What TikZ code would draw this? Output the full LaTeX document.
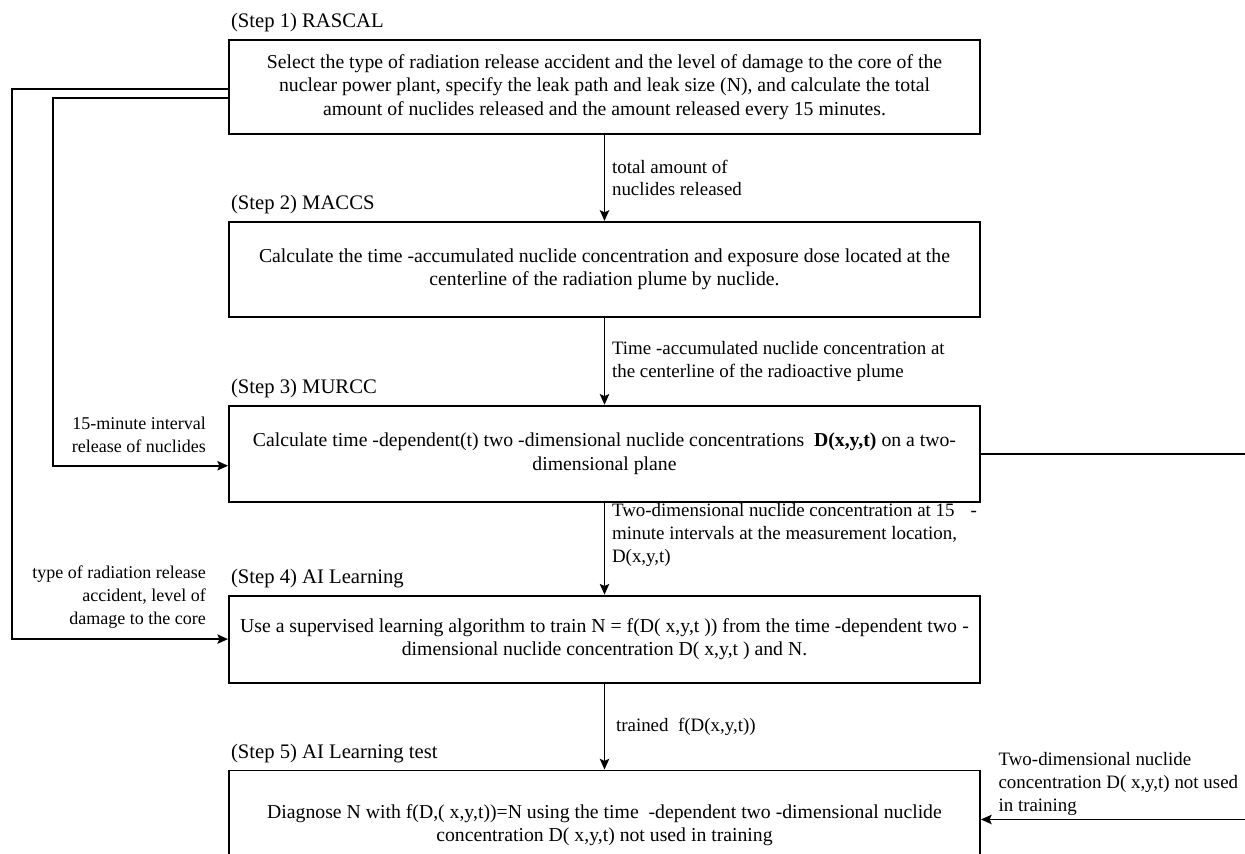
\documentclass[tikz,border=0pt]{standalone}
\usepackage{fontspec}
\setmainfont{Liberation Serif}
\usetikzlibrary{positioning,arrows.meta}

\newcommand{\boxfont}{\fontsize{14.8}{17.4}\selectfont}
\newcommand{\notefont}{\fontsize{14.2}{17.2}\selectfont}
\newcommand{\sidefont}{\fontsize{13.5}{17.4}\selectfont}
\newcommand{\stepfont}{\fontsize{15.5}{18}\selectfont}

\begin{document}
\begin{tikzpicture}[x=0.75pt, y=-0.75pt, node distance=64.5pt,
    stepbox/.style={draw, rectangle, line width=1.4pt, minimum width=563.25pt, align=center, font=\boxfont, inner sep=0pt},
    steplabel/.style={inner sep=0pt, font=\stepfont},
    note/.style={inner sep=0pt, font=\notefont},
    flow/.style={-{Stealth[length=8pt,width=7pt,inset=1.5pt]}, line width=1.3pt}]
        \useasboundingbox (0,0) rectangle (1245,853);
        \clip (0,0) rectangle (1245,853);

        \node[stepbox, minimum height=70.5pt] (rascal) at (604.5,87) {Select the type of radiation release accident and the level of damage to the core of the\\nuclear power plant, specify the leak path and leak size (N), and calculate the total\\amount of nuclides released and the amount released every 15 minutes.};
        \node[stepbox, minimum height=71.25pt, below=of rascal] (maccs) {Calculate the time -accumulated nuclide concentration and exposure dose located at the\\centerline of the radiation plume by nuclide.};
        \node[stepbox, minimum height=72pt, below=65.25pt of maccs] (murcc) {Calculate time -dependent(t) two -dimensional nuclide concentrations\ \ \textbf{D(x,y,t)} on a two-\\dimensional plane};
        \node[stepbox, minimum height=65.25pt, below=69pt of murcc] (ai) {Use a supervised learning algorithm\ to train N = f(D( x,y,t )) from the time -dependent two\hspace{4pt}-\\dimensional nuclide concentration D( x,y,t ) and N.};
        \node[stepbox, minimum height=82.5pt, below=of ai] (test) {Diagnose N with f(D,( x,y,t))=N using the time\ \ -dependent two -dimensional nuclide\\concentration D( x,y,t) not used in training};

        \node[steplabel, above right=5pt and 2pt of rascal.north west] (lab1) {(Step 1) RASCAL};
        \node[steplabel, above right=5pt and 2pt of maccs.north west] (lab2) {(Step 2) MACCS};
        \node[steplabel, above right=5pt and 2pt of murcc.north west] (lab3) {(Step 3) MURCC};
        \node[steplabel, above right=5pt and 2pt of ai.north west] (lab4) {(Step 4) AI Learning};
        \node[steplabel, above right=5pt and 2pt of test.north west] (lab5) {(Step 5) AI Learning test};

        \draw[flow] (rascal) -- (maccs) node[note, midway, right=5pt, align=left] {total amount of\\nuclides released};
        \draw[flow] (maccs) -- (murcc) node[note, midway, right=5pt, align=left] {Time -accumulated nuclide concentration at\\the centerline of the radioactive plume};
        \draw[flow] (murcc) -- (ai) node[note, midway, right=5pt, yshift=10pt, align=left] {Two-dimensional nuclide concentration at 15\hspace{12pt}-\\minute intervals at the measurement location,\\D(x,y,t)};
        \draw[flow] (ai) -- (test) node[note, midway, right=8pt, align=left] {trained\ \ f(D(x,y,t))};

        \coordinate (outer) at (12,300);
        \coordinate (inner) at (53,300);
        \coordinate (edge) at (1250,0);
        \draw[flow] ([yshift=-1.5pt]rascal.west) -| (outer) |- (ai.west);
        \draw[flow] ([yshift=-8.25pt]rascal.west) -| (inner) |- ([yshift=-9pt]murcc.west);
        \node[note, font=\sidefont, align=right, left=16.5pt of murcc.west, yshift=14pt] (relnote) {15-minute interval\\release of nuclides};
        \node[note, font=\sidefont, align=right, left=16.5pt of ai.west, yshift=31.5pt] (typenote) {type of radiation release\\accident, level of\\damage to the core};

        \draw[line width=1.3pt] (murcc.east) -- (murcc.east -| edge);
        \coordinate (testin) at ([yshift=4.5pt]test.east);
        \draw[flow] (testin -| edge) -- (testin);
        \node[note, align=left, above right=3pt and 13pt of testin] (unused) {Two-dimensional nuclide\\concentration D( x,y,t) not used\\in training};
    \end{tikzpicture}
\end{document}
